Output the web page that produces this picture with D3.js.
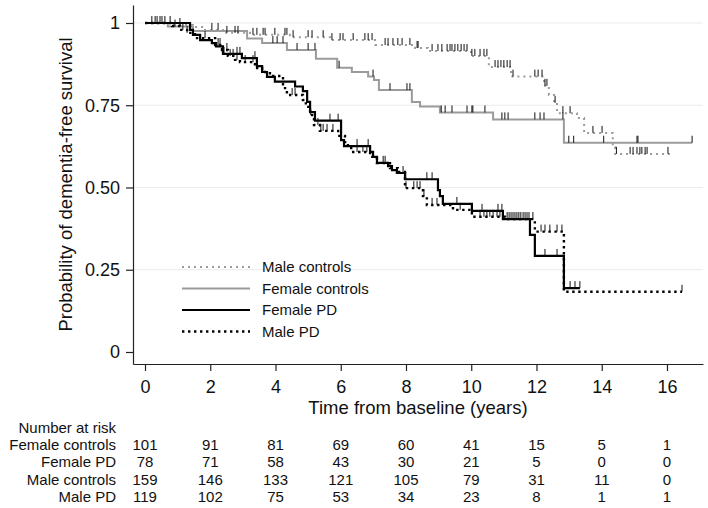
<!DOCTYPE html>
<html>
<head>
<meta charset="utf-8">
<script src="https://cdn.jsdelivr.net/npm/d3@7"></script>
<style>
  html, body { margin: 0; padding: 0; background: #fff; }
  svg { display: block; font-family: "Liberation Sans", Arial, sans-serif; }
</style>
</head>
<body>
<svg id="chart" width="708" height="508"></svg>
<script>
// ---------- data ----------
const xTickValues = [0, 2, 4, 6, 8, 10, 12, 14, 16];
const yTickValues = [0, 0.25, 0.5, 0.75, 1];
const yTickLabels = ["0", "0.25", "0.50", "0.75", "1"];

// Female controls (grey solid)
const fcTimes = [0.70, 1.47, 3.13, 3.59, 4.35, 5.24, 5.89, 6.34, 6.84, 7.02, 7.17, 8.18, 8.43, 9.04, 10.67, 12.84];
const fcSurv  = [0.989, 0.976, 0.953, 0.939, 0.918, 0.891, 0.864, 0.851, 0.837, 0.827, 0.796, 0.760, 0.746, 0.728, 0.707, 0.636];
const fcEnd = 16.77;
const fcCens = [0.46, 0.92, 3.92, 4.05, 4.23, 4.66, 5.00, 5.21, 5.95, 6.99, 7.51, 8.03, 8.12, 9.08, 9.20, 9.41, 9.87, 10.02, 10.05, 10.42,
                10.94, 11.03, 11.13, 11.95, 12.11, 12.23, 12.81, 12.99, 13.14, 14.06, 15.08, 15.11, 16.77];

// Female PD (black solid)
const fpTimes = [1.38, 1.47, 1.69, 2.05, 2.18, 2.39, 2.97, 3.43, 3.59, 3.74, 3.98, 4.60, 4.84, 4.97, 5.06, 5.21,
                 6.01, 6.10, 6.90, 6.99, 7.11, 7.45, 7.57, 7.72, 7.97, 8.98, 9.04, 9.13, 10.02, 10.97, 11.80, 11.95, 12.84];
const fpSurv  = [0.979, 0.964, 0.948, 0.939, 0.929, 0.906, 0.893, 0.869, 0.851, 0.836, 0.822, 0.807, 0.793, 0.760, 0.729, 0.703,
                 0.644, 0.626, 0.608, 0.593, 0.575, 0.565, 0.553, 0.544, 0.525, 0.492, 0.474, 0.450, 0.429, 0.404, 0.356, 0.292, 0.194];
const fpEnd = 13.33;
const fpCens = [0.31, 0.52, 2.42, 2.82, 2.91, 3.37, 5.67, 5.92, 6.50, 6.84, 7.30, 7.36, 7.91, 7.99, 8.64, 8.80, 9.56, 10.33,
                10.82, 10.94, 11.10, 11.22, 11.34, 11.46, 11.59, 11.71, 12.26, 12.63, 13.03, 13.18, 13.33];

// Male controls (grey dotted)
const mcTimes = [0.77, 1.47, 1.84, 2.45, 3.22, 4.44, 5.67, 7.05, 8.28, 8.67, 9.99, 10.54, 11.22, 12.23, 12.38, 12.54, 12.63, 13.24, 13.46, 14.34, 14.41];
const mcSurv  = [0.994, 0.988, 0.979, 0.970, 0.964, 0.957, 0.948, 0.933, 0.924, 0.915, 0.900, 0.866, 0.837, 0.809, 0.781, 0.757, 0.726, 0.711, 0.666, 0.623, 0.602];
const mcEnd = 16.09;
const mcCens = [0.21, 0.37, 0.61, 1.07, 2.05, 2.24, 2.51, 2.76, 2.85, 3.31, 3.43, 3.62, 3.68, 3.98, 4.29, 4.35, 4.54, 5.00, 5.12,
                5.46, 5.73, 5.98, 6.07, 6.38, 6.74, 6.84, 6.96, 7.36, 7.45, 7.60, 7.75, 7.88, 8.12, 8.34, 8.37, 8.80, 8.98, 9.10,
                9.26, 9.35, 9.41, 9.50, 9.59, 9.69, 9.78, 9.87, 10.02, 10.11, 10.27, 10.39, 10.48, 10.73, 10.82, 10.91, 11.00,
                11.10, 11.19, 11.28, 11.95, 12.05, 12.17, 12.26, 12.32, 12.57, 12.81, 13.03, 13.73, 14.01, 14.45, 14.87, 14.96,
                15.08, 15.17, 15.23, 15.33, 15.39, 16.03];

// Male PD (black dotted)
const mpTimes = [0.83, 1.07, 1.29, 1.53, 2.15, 2.36, 2.54, 2.76, 2.91, 3.37, 3.59, 3.83, 4.23, 4.35, 4.84, 4.93, 5.06, 5.18, 5.36,
                 5.92, 6.13, 6.22, 6.38, 6.90, 7.11, 7.51, 7.75, 7.97, 8.52, 8.64, 9.44, 10.02, 11.03, 11.95, 12.84];
const mpSurv  = [0.991, 0.979, 0.970, 0.954, 0.933, 0.918, 0.900, 0.888, 0.881, 0.863, 0.851, 0.839, 0.802, 0.781, 0.766, 0.745, 0.720, 0.690, 0.672,
                 0.657, 0.638, 0.620, 0.608, 0.593, 0.574, 0.559, 0.547, 0.498, 0.474, 0.447, 0.432, 0.411, 0.404, 0.366, 0.183];
const mpEnd = 16.46;
const mpCens = [0.77, 1.16, 1.29, 1.84, 2.24, 2.30, 2.51, 2.61, 2.70, 2.82, 3.07, 3.31, 4.51, 4.60, 5.08, 5.30, 5.39, 5.46, 5.58, 5.76,
                6.50, 6.68, 6.80, 8.00, 8.24, 8.34, 8.43, 8.55, 8.80, 8.95, 9.66, 10.27, 10.39, 10.48, 10.57, 10.67, 10.79, 10.88,
                11.16, 11.28, 11.40, 11.52, 11.65, 11.77, 11.89, 12.14, 12.26, 12.41, 12.63, 12.78, 16.46];

// Number at risk table
const riskGroups = ["Female controls", "Female PD", "Male controls", "Male PD"];
const riskFemaleControls = [101, 91, 81, 69, 60, 41, 15, 5, 1];
const riskFemalePD       = [78, 71, 58, 43, 30, 21, 5, 0, 0];
const riskMaleControls   = [159, 146, 133, 121, 105, 79, 31, 11, 0];
const riskMalePD         = [119, 102, 75, 53, 34, 23, 8, 1, 1];

const legendLabels = ["Male controls", "Female controls", "Female PD", "Male PD"];

// ---------- chart ----------
const svg = d3.select("#chart");
const x = d3.scaleLinear().domain([-0.368, 17.104]).range([133, 703]);
const y = d3.scaleLinear().domain([-0.0365, 1.0547]).range([364, 5]);

const GREY = "#9b9b9b";
const styles = {
  "Female controls": { color: GREY, dash: null, width: 2 },
  "Female PD":       { color: "#000", dash: null, width: 2.2 },
  "Male controls":   { color: GREY, dash: "2,4", width: 2 },
  "Male PD":         { color: "#000", dash: "2.4,3.6", width: 2.4 }
};

// gridlines
svg.append("g").selectAll("line")
  .data(yTickValues.filter(v => v > 0))
  .join("line")
  .attr("x1", x.range()[0]).attr("x2", x.range()[1])
  .attr("y1", d => y(d)).attr("y2", d => y(d))
  .attr("stroke", "#ebebeb").attr("stroke-width", 1);

// axes
const yAxis = d3.axisLeft(y).tickValues(yTickValues)
  .tickFormat((d, i) => yTickLabels[i]).tickSize(7).tickSizeOuter(0).tickPadding(6);
const gy = svg.append("g").attr("transform", `translate(${x.range()[0]},0)`).call(yAxis);
const xAxis = d3.axisBottom(x).tickValues(xTickValues).tickFormat(d3.format("d"))
  .tickSize(7).tickSizeOuter(0).tickPadding(9);
const gx = svg.append("g").attr("transform", `translate(0,${y.range()[0]})`).call(xAxis);
[gx, gy].forEach(g => {
  g.select(".domain").attr("stroke", "#222").attr("stroke-width", 1.2);
  g.selectAll(".tick line").attr("stroke", "#222").attr("stroke-width", 1.2);
  g.selectAll(".tick text").attr("font-size", 18).attr("fill", "#111")
    .attr("font-family", "'Liberation Sans', Arial, sans-serif");
});

// axis titles
svg.append("text")
  .attr("x", (x.range()[0] + x.range()[1]) / 2).attr("y", 414)
  .attr("text-anchor", "middle").attr("font-size", 18.5).attr("fill", "#111")
  .text("Time from baseline (years)");
svg.append("text")
  .attr("transform", `translate(72,${(y(1.0547) + y(-0.0365)) / 2 + 0}) rotate(-90)`)
  .attr("text-anchor", "middle").attr("font-size", 18.5).attr("fill", "#111")
  .text("Probability of dementia-free survival");

// curves
const series = [
  { name: "Female controls", times: fcTimes, surv: fcSurv, end: fcEnd, cens: fcCens },
  { name: "Male controls",   times: mcTimes, surv: mcSurv, end: mcEnd, cens: mcCens },
  { name: "Female PD",       times: fpTimes, surv: fpSurv, end: fpEnd, cens: fpCens },
  { name: "Male PD",         times: mpTimes, surv: mpSurv, end: mpEnd, cens: mpCens }
];

const line = d3.line().x(d => x(d[0])).y(d => y(d[1])).curve(d3.curveStepAfter);

function survAt(s, t) {
  const i = d3.bisectRight(s.times, t);
  return i === 0 ? 1 : s.surv[i - 1];
}

series.forEach(s => {
  const st = styles[s.name];
  const pts = [[0, 1]].concat(s.times.map((t, i) => [t, s.surv[i]]));
  pts.push([s.end, s.surv[s.surv.length - 1]]);
  svg.append("path")
    .attr("d", line(pts))
    .attr("fill", "none")
    .attr("stroke", st.color)
    .attr("stroke-width", st.width)
    .attr("stroke-dasharray", st.dash)
    .attr("stroke-linejoin", "miter");
});

series.forEach(s => {
  svg.append("g").selectAll("line")
    .data(s.cens)
    .join("line")
    .attr("x1", d => x(d)).attr("x2", d => x(d))
    .attr("y1", d => y(survAt(s, d)))
    .attr("y2", d => y(survAt(s, d)) - 7)
    .attr("stroke", "#111").attr("stroke-width", 1);
});

// legend
const legendRows = [267, 288.5, 310, 331.5];
legendLabels.forEach((name, i) => {
  const st = styles[name];
  svg.append("line")
    .attr("x1", 182).attr("x2", 250)
    .attr("y1", legendRows[i]).attr("y2", legendRows[i])
    .attr("stroke", st.color).attr("stroke-width", st.width)
    .attr("stroke-dasharray", st.dash);
  svg.append("text")
    .attr("x", 262).attr("y", legendRows[i]).attr("dy", "0.35em")
    .attr("font-size", 15).attr("fill", "#111")
    .text(name);
});

// number at risk table
const riskRows = [riskFemaleControls, riskFemalePD, riskMaleControls, riskMalePD];
const rowBase = [450, 467, 484.5, 501.5];
svg.append("text").attr("x", 116).attr("y", 432.5)
  .attr("text-anchor", "end").attr("font-size", 15).attr("fill", "#111")
  .text("Number at risk");
riskGroups.forEach((g, r) => {
  svg.append("text").attr("x", 116).attr("y", rowBase[r])
    .attr("text-anchor", "end").attr("font-size", 15).attr("fill", "#111")
    .text(g);
  svg.append("g").selectAll("text")
    .data(riskRows[r])
    .join("text")
    .attr("x", (d, i) => x(xTickValues[i]))
    .attr("y", rowBase[r])
    .attr("text-anchor", "middle").attr("font-size", 15).attr("fill", "#111")
    .text(d => d);
});
</script>
</body>
</html>
